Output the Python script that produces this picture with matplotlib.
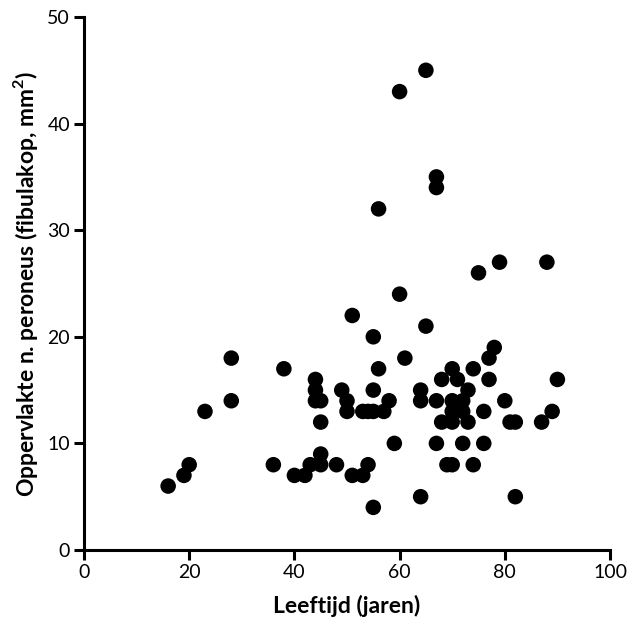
import matplotlib
matplotlib.use("Agg")
import matplotlib.pyplot as plt

age = [16, 19, 20, 23, 28, 28, 36, 38, 40, 42, 43, 44, 44, 44, 45, 45, 45, 45, 48, 49,
       50, 50, 51, 51, 53, 53, 54, 54, 55, 55, 55, 55, 56, 56, 57, 58, 59, 60, 60, 61,
       64, 64, 64, 65, 65, 67, 67, 67, 67, 68, 68, 69, 70, 70, 70, 70, 70, 71, 72, 72,
       72, 73, 73, 74, 74, 75, 76, 76, 77, 77, 78, 79, 80, 81, 82, 82, 87, 88, 89, 90]
area = [6, 7, 8, 13, 18, 14, 8, 17, 7, 7, 8, 16, 15, 14, 14, 12, 9, 8, 8, 15,
        14, 13, 22, 7, 13, 7, 8, 13, 13, 15, 20, 4, 17, 32, 13, 14, 10, 24, 43, 18,
        15, 14, 5, 21, 45, 35, 34, 14, 10, 16, 12, 8, 17, 14, 13, 12, 8, 16, 14, 13,
        10, 15, 12, 17, 8, 26, 13, 10, 16, 18, 19, 27, 14, 12, 12, 5, 12, 27, 13, 16]

xticks = [0, 20, 40, 60, 80, 100]
yticks = [0, 10, 20, 30, 40, 50]

plt.rcParams['font.family'] = ['Lato', 'DejaVu Sans']
plt.rcParams['mathtext.fontset'] = 'custom'
plt.rcParams['mathtext.bf'] = 'Lato:bold'
plt.rcParams['mathtext.rm'] = 'Lato'

fig = plt.figure(figsize=(6.27, 6.18), dpi=100)
ax = fig.add_axes([84/627, 68/618, 526/627, 533/618])

ax.scatter(age, area, s=125, color='black', edgecolors='none', clip_on=False, zorder=3)

ax.set_xlim(0, 100)
ax.set_ylim(0, 50)
ax.set_xticks(xticks)
ax.set_yticks(yticks)
ax.spines['top'].set_visible(False)
ax.spines['right'].set_visible(False)
for s in ['left', 'bottom']:
    ax.spines[s].set_linewidth(2.2)
ax.tick_params(axis='both', which='major', length=7, width=2.2, labelsize=14, pad=3)

ax.set_xlabel('Leeftijd (jaren)', fontsize=16.5, fontweight='bold', labelpad=10)
ax.set_ylabel(r'Oppervlakte n. peroneus (fibulakop, mm$^{\mathbf{2}}$)', fontsize=16.5,
              fontweight='bold', labelpad=5)

fig.savefig('out.png', dpi=100)
